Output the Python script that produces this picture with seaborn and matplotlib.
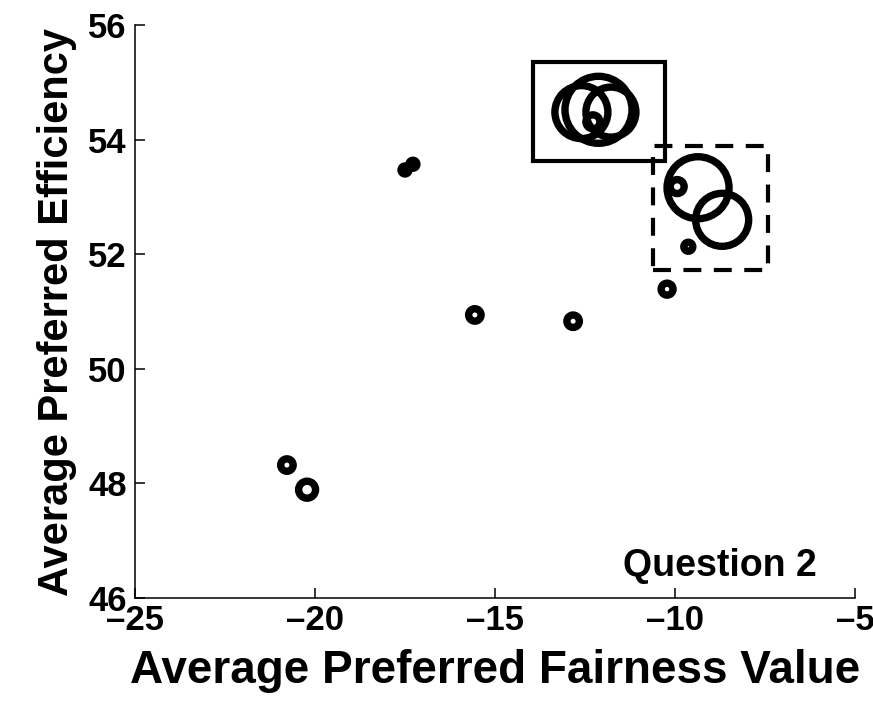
import matplotlib
matplotlib.use("Agg")
import matplotlib.pyplot as plt
from matplotlib.patches import Rectangle
import seaborn as sns
import pandas as pd
import numpy as np

# ---- data ----
fairness = [-20.78, -20.22, -17.50, -17.28, -15.56, -12.83, -10.22, -9.63,
            -9.94, -9.36, -8.69, -12.28, -12.60, -12.125, -11.78]
efficiency = [48.32, 47.89, 53.47, 53.57, 50.94, 50.83, 51.39, 52.13,
              53.18, 53.16, 52.60, 54.31, 54.48, 54.52, 54.48]
# relative bubble size (diameter units)
bubble = [12.5, 17, 8, 8, 12.5, 12.5, 12, 9,
          14, 62, 53, 14, 53, 67, 50]

x_ticks = [-25, -20, -15, -10, -5]
y_ticks = [46, 48, 50, 52, 54, 56]

solid_box = [-13.94, 53.63, -10.28, 55.35]    # x0, y0, x1, y1
dashed_box = [-10.61, 51.72, -7.42, 53.89]

annotation = "Question 2"
x_label = "Average Preferred Fairness Value"
y_label = "Average Preferred Efficiency"

# ---- plot ----
sns.set_style("ticks")
plt.rcParams["font.family"] = ["Liberation Sans", "DejaVu Sans"]
plt.rcParams["font.weight"] = "bold"
plt.rcParams["text.color"] = "black"
plt.rcParams["axes.labelcolor"] = "black"
plt.rcParams["xtick.color"] = "black"
plt.rcParams["ytick.color"] = "black"
plt.rcParams["axes.edgecolor"] = "black"

df = pd.DataFrame({"x": fairness, "y": efficiency, "b": bubble})
# marker area in pt^2 from diameter in pixels (dpi 100)
df["area"] = (df["b"] * 0.72) ** 2

fig = plt.figure(figsize=(8.73, 7.05), dpi=100)
ax = fig.add_axes([135 / 873, 1 - 598 / 705, 720 / 873, 573 / 705])

sizes = {v: v for v in df["area"].unique()}
sns.scatterplot(data=df, x="x", y="y", size="area", sizes=sizes,
                facecolor="none", edgecolor="black", linewidth=5.3,
                legend=False, ax=ax, zorder=3)

ax.add_patch(Rectangle((solid_box[0], solid_box[1]),
                       solid_box[2] - solid_box[0], solid_box[3] - solid_box[1],
                       fill=False, edgecolor="black", linewidth=3.0, zorder=2))
ax.add_patch(Rectangle((dashed_box[0], dashed_box[1]),
                       dashed_box[2] - dashed_box[0], dashed_box[3] - dashed_box[1],
                       fill=False, edgecolor="black", linewidth=3.0,
                       linestyle=(0, (4.3, 3.0)), zorder=2))

ax.set_xlim(-25, -5)
ax.set_ylim(46, 56)
ax.set_xticks(x_ticks)
ax.set_yticks(y_ticks)
ax.set_xticklabels([f"\u2013{abs(t)}" for t in x_ticks], fontsize=25, fontweight="bold")
ax.set_yticklabels([str(t) for t in y_ticks], fontsize=25, fontweight="bold")
ax.tick_params(direction="in", length=7, width=1.1, pad=4)
ax.tick_params(axis="y", pad=6)

for s in ["top", "right"]:
    ax.spines[s].set_visible(False)
for s in ["left", "bottom"]:
    ax.spines[s].set_linewidth(1.1)

ax.set_xlabel(x_label, fontsize=33, fontweight="bold", labelpad=9)
ax.set_ylabel(y_label, fontsize=30, fontweight="bold", labelpad=8)

ax.text(-8.75, 46.55, annotation, fontsize=27, fontweight="bold",
        ha="center", va="center")

fig.savefig("out.png", dpi=100)
